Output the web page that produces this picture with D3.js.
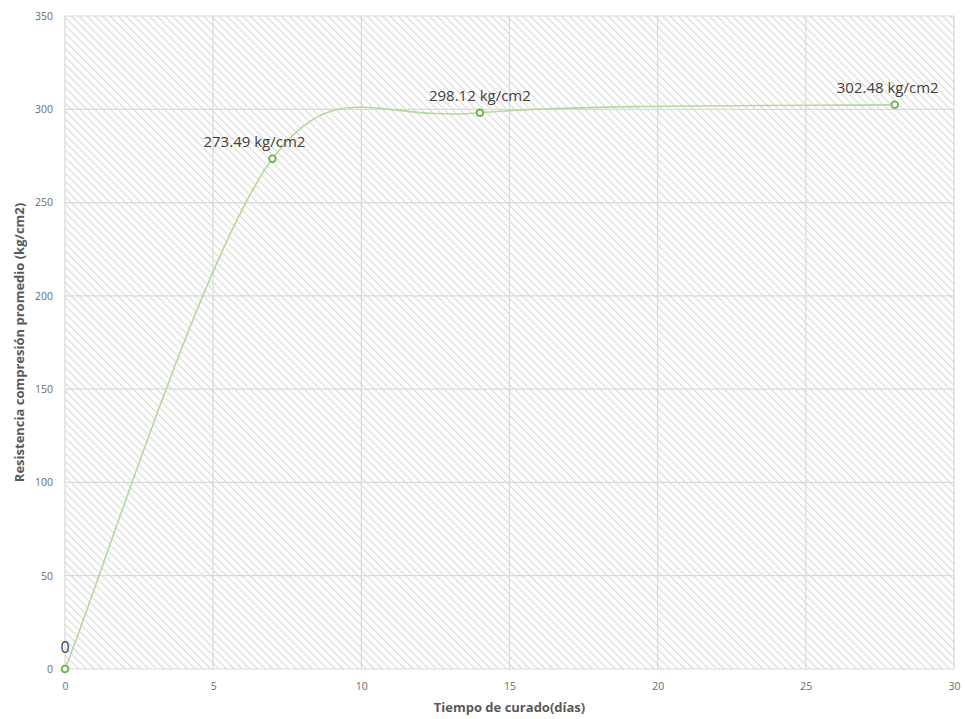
<!DOCTYPE html>
<html>
<head>
<meta charset="utf-8">
<script src="https://cdn.jsdelivr.net/npm/d3@7"></script>
<style>
  html, body { margin: 0; padding: 0; background: #fff; }
  svg { display: block; font-family: "Open Sans", "Liberation Sans", sans-serif; }
</style>
</head>
<body>
<svg id="chart" width="965" height="719"></svg>
<script>
// Curing time (days) and average compressive strength (kg/cm2)
const dias = [0, 7, 14, 28];
const resistencia = [0, 273.49, 298.12, 302.48];
const etiquetas = ["0", "273.49 kg/cm2", "298.12 kg/cm2", "302.48 kg/cm2"];
const xTicks = [0, 5, 10, 15, 20, 25, 30];
const yTicks = [0, 50, 100, 150, 200, 250, 300, 350];

const margin = { left: 65, right: 11, top: 16, bottom: 50 };
const W = 965, H = 719;
const svg = d3.select("#chart");

const x = d3.scaleLinear().domain([0, 30]).range([margin.left, W - margin.right]);
const y = d3.scaleLinear().domain([0, 350]).range([H - margin.bottom, margin.top]);

// Diagonal hatch fill for the plot area (lines running top-left to bottom-right)
const defs = svg.append("defs");
const pat = defs.append("pattern")
  .attr("id", "hatch")
  .attr("patternUnits", "userSpaceOnUse")
  .attr("width", 5.5).attr("height", 5.5)
  .attr("patternTransform", "rotate(-45)");
pat.append("rect").attr("width", 5.5).attr("height", 5.5).attr("fill", "#fff");
pat.append("line")
  .attr("x1", 0).attr("y1", 0).attr("x2", 0).attr("y2", 5.5)
  .attr("stroke", "#d8d8d8").attr("stroke-width", 2.2);

svg.append("rect")
  .attr("x", x(0)).attr("y", y(350))
  .attr("width", x(30) - x(0)).attr("height", y(0) - y(350))
  .attr("fill", "url(#hatch)");

// Gridlines
const grid = svg.append("g");
grid.selectAll(".gy").data(yTicks).join("line")
  .attr("x1", x(0)).attr("x2", x(30))
  .attr("y1", d => y(d)).attr("y2", d => y(d))
  .attr("stroke", "#d9d9d9").attr("stroke-width", 1.2);
grid.selectAll(".gx").data(xTicks).join("line")
  .attr("y1", y(0)).attr("y2", y(350))
  .attr("x1", d => x(d)).attr("x2", d => x(d))
  .attr("stroke", "#d9d9d9").attr("stroke-width", 1.2);

// Axes (labels only)
const xAxis = svg.append("g")
  .attr("transform", `translate(0,${y(0)})`)
  .call(d3.axisBottom(x).tickValues(xTicks).tickSize(0).tickPadding(14));
const yAxis = svg.append("g")
  .attr("transform", `translate(${x(0)},0)`)
  .call(d3.axisLeft(y).tickValues(yTicks).tickSize(0).tickPadding(12));
[xAxis, yAxis].forEach(a => {
  a.select(".domain").remove();
  a.selectAll("text").attr("fill", "#6b6b6b").attr("font-size", 10.5)
    .attr("font-family", "'Open Sans', sans-serif");
});

// Axis titles
svg.append("text")
  .attr("x", (x(0) + x(30)) / 2).attr("y", 712)
  .attr("text-anchor", "middle")
  .attr("font-size", 13).attr("font-weight", "bold").attr("fill", "#595959")
  .text("Tiempo de curado(días)");
svg.append("text")
  .attr("transform", `translate(24,${(y(0) + y(350)) / 2}) rotate(-90)`)
  .attr("text-anchor", "middle")
  .attr("font-size", 13).attr("font-weight", "bold").attr("fill", "#595959")
  .text("Resistencia compresión promedio (kg/cm2)");

// Spreadsheet-style smoothed line: cubic Bezier segments whose control
// handles follow the neighbour chord (1/6 of it), capped at half the segment.
function smoothPath(p) {
  const path = d3.path();
  const dist = (a, b) => Math.hypot(b[0] - a[0], b[1] - a[1]);
  path.moveTo(p[0][0], p[0][1]);
  for (let i = 0; i < p.length - 1; i++) {
    const p0 = p[Math.max(i - 1, 0)], p1 = p[i], p2 = p[i + 1], p3 = p[Math.min(i + 2, p.length - 1)];
    const d12 = dist(p1, p2);
    const d02 = dist(p0, p2), d13 = dist(p1, p3);
    const l1 = Math.min(d02 / 6, d12 / 2), l2 = Math.min(d13 / 6, d12 / 2);
    const c1 = [p1[0] + (p2[0] - p0[0]) / d02 * l1, p1[1] + (p2[1] - p0[1]) / d02 * l1];
    const c2 = [p2[0] - (p3[0] - p1[0]) / d13 * l2, p2[1] - (p3[1] - p1[1]) / d13 * l2];
    path.bezierCurveTo(c1[0], c1[1], c2[0], c2[1], p2[0], p2[1]);
  }
  return path.toString();
}

const pts = dias.map((d, i) => [d, resistencia[i]]);
svg.append("path")
  .attr("d", smoothPath(pts.map(d => [x(d[0]), y(d[1])])))
  .attr("fill", "none")
  .attr("stroke", "#b5d89c")
  .attr("stroke-width", 1.6);

// Markers
svg.selectAll(".pt").data(pts).join("circle")
  .attr("cx", d => x(d[0])).attr("cy", d => y(d[1]))
  .attr("r", 3.3)
  .attr("fill", "#fff")
  .attr("stroke", "#6ab04c")
  .attr("stroke-width", 1.8);

// Data labels (first and last nudged left to stay clear of the line / edge)
const labelDx = [0, -18, 0, -7];
svg.selectAll(".lbl").data(pts).join("text")
  .attr("x", (d, i) => x(d[0]) + labelDx[i])
  .attr("y", (d, i) => y(d[1]) - (i === 0 ? 16 : 12))
  .attr("text-anchor", "middle")
  .attr("font-size", (d, i) => i === 0 ? 16 : 15)
  .attr("fill", "#404040")
  .text((d, i) => etiquetas[i]);
</script>
</body>
</html>
